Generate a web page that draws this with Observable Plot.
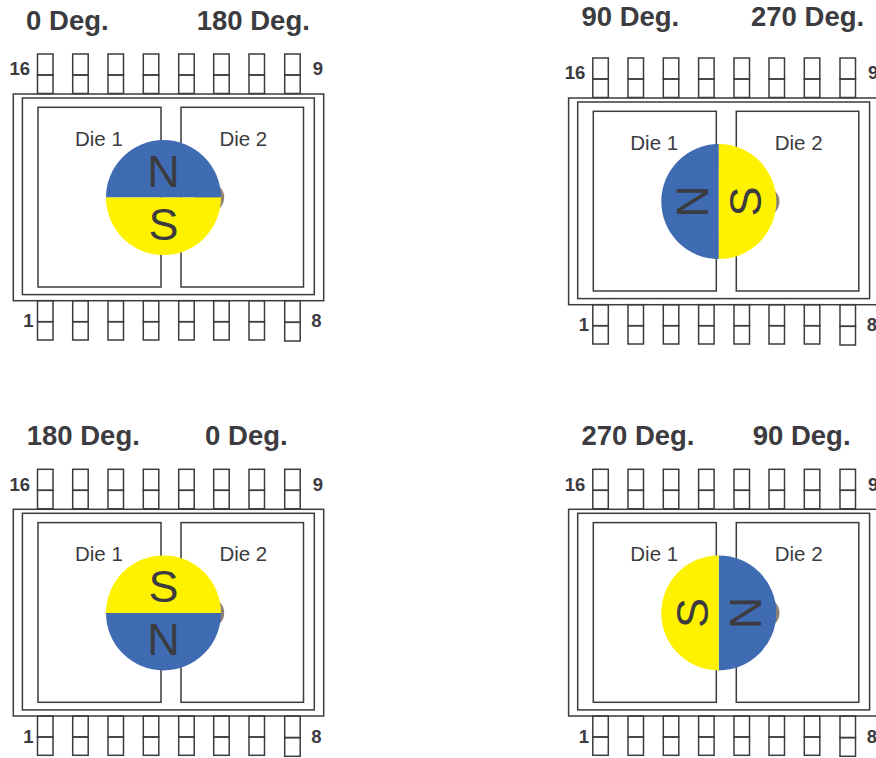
<!DOCTYPE html>
<html>
<head>
<meta charset="utf-8">
<style>html,body{margin:0;padding:0;background:#fff}svg{display:block}</style>
<script src="https://cdn.jsdelivr.net/npm/d3@7"></script>
<script src="https://cdn.jsdelivr.net/npm/@observablehq/plot@0.6"></script>
</head>
<body>
<script>
// Panels: offset of each package, pole angle, and the two heading labels
const panelDx = [0, 555.3, 0, 555.3];
const panelDy = [0, 4, 415.3, 415.3];
const northAngle = [0, -90, 180, 90];
const letterAngle = [0, -90, 0, -90];
const headingY = [20.5, 16.5, 435.5, 435.5];
const headingLeft = ["0 Deg.", "90 Deg.", "180 Deg.", "270 Deg."];
const headingRight = ["180 Deg.", "270 Deg.", "0 Deg.", "90 Deg."];
const headingLeftX = [25.6, 580.9, 26.2, 580.9];
const headingRightX = [196.2, 750.5, 204.6, 752.2];

// Package geometry, in page pixels for the top-left panel
const pinStarts = [37.5, 72.7, 108, 143.3, 178.7, 213.7, 249, 284.7];
const pinWidth = 15.5;
const topPinY = [54, 75, 93.5];
const bottomPinY = [300.7, 321.7, 340];
const lastBottomPinY = [300.7, 322.3, 341];
const outerBox = [13.3, 323.7, 94, 300.7];
const innerBox = [22.4, 314.3, 98, 294.6];
const dieBoxes = [[38, 161, 107.3, 287], [181, 303.5, 107.3, 287]];
const dieNames = ["Die 1", "Die 2"];
const dieLabelX = [98.4, 242.8];
const dieLabelY = 139;
const pinLabels = ["16", "9", "1", "8"];
const pinLabelX = [19.3, 317.3, 28, 316];
const pinLabelY = [69, 69, 321, 321];
const magnetCentre = [163, 197.1];
const magnetRadius = 57.5;
const nubOffset = 45.7;
const nubRadius = 15;
const poleLabelOffset = 26.5;
const glyphShift = 1.5;
const poles = ["N", "S"];

const ink = "#3b3b40";
const blue = "#3f6bb3";
const yellow = "#fff200";
const nub = "#8f8378";

const halfDisc = {draw(ctx, size) {
  const r = Math.sqrt(size / Math.PI);
  ctx.arc(0, 0, r, Math.PI, 2 * Math.PI);
  ctx.closePath();
}};

const panels = panelDx.map((dx, i) => ({
  dx, dy: panelDy[i], angle: northAngle[i], letter: letterAngle[i], headY: headingY[i],
  left: headingLeft[i], right: headingRight[i],
  leftX: headingLeftX[i], rightX: headingRightX[i]
}));

const box = (b, p) => ({x1: b[0] + p.dx, x2: b[1] + p.dx, y1: b[2] + p.dy, y2: b[3] + p.dy});
const boxes = panels.flatMap(p => [outerBox, innerBox, ...dieBoxes].map(b => box(b, p)));
const pins = panels.flatMap(p => pinStarts.flatMap((s, k) => [topPinY, k === pinStarts.length - 1 ? lastBottomPinY : bottomPinY].flatMap(ys => [
  box([s, s + pinWidth, ys[0], ys[1]], p),
  box([s, s + pinWidth, ys[1], ys[2]], p)
])));
const centres = panels.map(p => ({x: magnetCentre[0] + p.dx, y: magnetCentre[1] + p.dy, angle: p.angle, letter: p.letter}));
const rad = a => a * Math.PI / 180;
const poleLabels = centres.flatMap(c => poles.map((name, i) => {
  const a = rad(c.angle + (i ? 180 : 0));
  const g = rad(c.letter);
  return {
    name,
    x: c.x + poleLabelOffset * Math.sin(a) + glyphShift * Math.abs(Math.sin(g)),
    y: c.y - poleLabelOffset * Math.cos(a) + glyphShift * Math.abs(Math.cos(g)),
    rotate: c.letter
  };
}));
const dieText = panels.flatMap(p => dieNames.map((t, i) => ({t, x: dieLabelX[i] + p.dx, y: dieLabelY + p.dy})));
const pinText = panels.flatMap(p => pinLabels.map((t, i) => ({t, x: pinLabelX[i] + p.dx, y: pinLabelY[i] + p.dy})));
const headings = panels.flatMap(p => [
  {t: p.left, x: p.leftX, y: p.headY},
  {t: p.right, x: p.rightX, y: p.headY}
]);

const chart = Plot.plot({
  width: 876, height: 758,
  margin: 0,
  x: {domain: [0, 876], range: [0, 876], axis: null},
  y: {domain: [0, 758], range: [0, 758], axis: null},
  style: {fontFamily: "'Liberation Sans', Arial, sans-serif", background: "#fff"},
  marks: [
    Plot.rect(pins, {x1: "x1", x2: "x2", y1: "y1", y2: "y2", fill: "none", stroke: ink, strokeWidth: 1.5}),
    Plot.rect(boxes, {x1: "x1", x2: "x2", y1: "y1", y2: "y2", fill: "none", stroke: ink, strokeWidth: 1.5}),
    Plot.dot(centres, {x: d => d.x + nubOffset, y: "y", r: nubRadius, fill: nub, stroke: "none"}),
    Plot.dot(centres, {x: "x", y: "y", r: magnetRadius, symbol: halfDisc, rotate: "angle", fill: blue, stroke: "none"}),
    Plot.dot(centres, {x: "x", y: "y", r: magnetRadius, symbol: halfDisc, rotate: d => d.angle + 180, fill: yellow, stroke: "none"}),
    Plot.text(poleLabels, {x: "x", y: "y", text: "name", rotate: "rotate", fontSize: 45, fill: ink}),
    Plot.text(dieText, {x: "x", y: "y", text: "t", fontSize: 20.5, fill: ink}),
    Plot.text(pinText, {x: "x", y: "y", text: "t", fontSize: 18.5, fontWeight: "bold", fill: ink}),
    Plot.text(headings, {x: "x", y: "y", text: "t", textAnchor: "start", fontSize: 27.5, fontWeight: "bold", fill: ink})
  ]
});
document.body.appendChild(chart);
</script>
</body>
</html>
